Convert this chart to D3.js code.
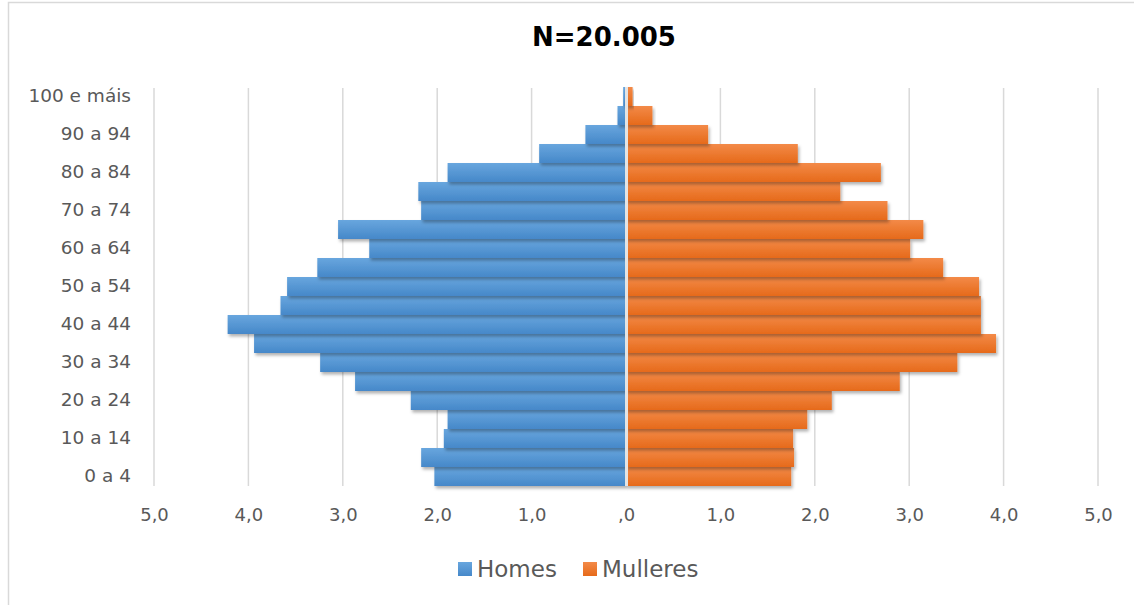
<!DOCTYPE html>
<html>
<head>
<meta charset="utf-8">
<script src="https://cdn.jsdelivr.net/npm/d3@7"></script>
<style>
  body { margin: 0; background: #fff; }
  svg text { font-family: "DejaVu Sans", Verdana, sans-serif; }
</style>
</head>
<body>
<div id="chart"></div>
<script>
// age groups, bottom to top
var ageGroups = ["0 a 4", "5 a 9", "10 a 14", "15 a 19", "20 a 24", "25 a 29", "30 a 34",
  "35 a 39", "40 a 44", "45 a 49", "50 a 54", "55 a 59", "60 a 64", "65 a 69",
  "70 a 74", "75 a 79", "80 a 84", "85 a 89", "90 a 94", "95 a 99", "100 e máis"];

// percentages
var homes = [2.03, 2.17, 1.93, 1.89, 2.28, 2.87, 3.24, 3.94, 4.22, 3.66, 3.59, 3.27,
  2.72, 3.05, 2.17, 2.20, 1.89, 0.92, 0.43, 0.09, 0.03];
var mulleres = [1.75, 1.78, 1.77, 1.92, 2.18, 2.90, 3.51, 3.92, 3.76, 3.76, 3.74, 3.36,
  3.01, 3.15, 2.77, 2.27, 2.70, 1.82, 0.87, 0.28, 0.07];

var xTicks = [-5, -4, -3, -2, -1, 0, 1, 2, 3, 4, 5];
var title = "N=20.005";
var seriesNames = ["Homes", "Mulleres"];

var width = 1134, height = 605;

var svg = d3.select("#chart").append("svg")
    .attr("width", width)
    .attr("height", height);

var defs = svg.append("defs");

/* bar gradients */
function grad(id, top, bottom) {
  var g = defs.append("linearGradient").attr("id", id)
      .attr("x1", 0).attr("y1", 0).attr("x2", 0).attr("y2", 1);
  g.append("stop").attr("offset", "0%").attr("stop-color", top);
  g.append("stop").attr("offset", "100%").attr("stop-color", bottom);
}
grad("gBlue", "#68a6de", "#4688c9");
grad("gOrange", "#f38a48", "#e66a1a");

var shadow = defs.append("filter").attr("id", "shadow")
    .attr("x", "-10%").attr("y", "-30%").attr("width", "120%").attr("height", "180%");
shadow.append("feDropShadow")
    .attr("dx", 1.5).attr("dy", 2.5).attr("stdDeviation", 1.8)
    .attr("flood-color", "#000").attr("flood-opacity", 0.3);

/* chart border */
svg.append("rect")
    .attr("x", 8.5).attr("y", 2.5)
    .attr("width", width + 20).attr("height", height + 20)
    .attr("fill", "none").attr("stroke", "#d9d9d9").attr("stroke-width", 1.5);

var x = d3.scaleLinear().domain([-5, 5]).range([154, 1098]);
var y = d3.scaleBand().domain(ageGroups).range([486, 87]).padding(0);

/* gridlines */
svg.append("g").selectAll("line")
    .data(xTicks.filter(function(d) { return d !== 0; }))
    .enter().append("line")
    .attr("x1", function(d) { return x(d); })
    .attr("x2", function(d) { return x(d); })
    .attr("y1", 88).attr("y2", 486)
    .attr("stroke", "#d9d9d9").attr("stroke-width", 1.5);

/* bars */
var bars = svg.append("g");
bars.selectAll("rect.h")
    .data(homes)
    .enter().append("rect")
    .attr("class", "h")
    .attr("x", function(d) { return x(-d); })
    .attr("y", function(d, i) { return y(ageGroups[i]); })
    .attr("width", function(d) { return x(0) - x(-d); })
    .attr("height", y.bandwidth())
    .attr("fill", "url(#gBlue)")
    .attr("filter", "url(#shadow)");

bars.selectAll("rect.m")
    .data(mulleres)
    .enter().append("rect")
    .attr("class", "m")
    .attr("x", x(0))
    .attr("y", function(d, i) { return y(ageGroups[i]); })
    .attr("width", function(d) { return x(d) - x(0); })
    .attr("height", y.bandwidth())
    .attr("fill", "url(#gOrange)")
    .attr("filter", "url(#shadow)");

/* zero axis */
svg.append("line")
    .attr("x1", x(0) + 0.5).attr("x2", x(0) + 0.5)
    .attr("y1", 87).attr("y2", 486)
    .attr("stroke", "#e4e4e4").attr("stroke-width", 3);

/* x axis labels */
var xAxis = d3.axisBottom(x)
    .tickValues(xTicks)
    .tickSize(0)
    .tickFormat(function(d) {
      return d === 0 ? ",0" : Math.abs(d).toFixed(1).replace(".", ",");
    });
var gx = svg.append("g")
    .attr("transform", "translate(0,505)")
    .call(xAxis);
gx.select(".domain").remove();
gx.selectAll("text")
    .attr("fill", "#595959")
    .style("font-size", "18px")
    .style("font-family", "'DejaVu Sans', Verdana, sans-serif");

/* y axis labels, every other group */
var yAxis = d3.axisLeft(y)
    .tickValues(ageGroups.filter(function(d, i) { return i % 2 === 0; }))
    .tickSize(0)
    .tickPadding(0);
var gy = svg.append("g")
    .attr("transform", "translate(131,0)")
    .call(yAxis);
gy.select(".domain").remove();
gy.selectAll("text")
    .attr("fill", "#595959")
    .style("font-size", "18.5px")
    .style("font-family", "'DejaVu Sans', Verdana, sans-serif");

/* title */
svg.append("text")
    .attr("x", 604).attr("y", 46)
    .attr("text-anchor", "middle")
    .style("font-size", "26px")
    .style("font-weight", "bold")
    .attr("fill", "#000")
    .text(title);

/* legend */
var legendData = [
  { name: seriesNames[0], fill: "url(#gBlue)", x: 458 },
  { name: seriesNames[1], fill: "url(#gOrange)", x: 583 }
];
var lg = svg.append("g").selectAll("g")
    .data(legendData)
    .enter().append("g")
    .attr("transform", function(d) { return "translate(" + d.x + ",562)"; });
lg.append("rect")
    .attr("width", 14).attr("height", 14)
    .attr("fill", function(d) { return d.fill; });
lg.append("text")
    .attr("x", 19).attr("y", 15)
    .attr("fill", "#595959")
    .style("font-size", "23px")
    .text(function(d) { return d.name; });
</script>
</body>
</html>
